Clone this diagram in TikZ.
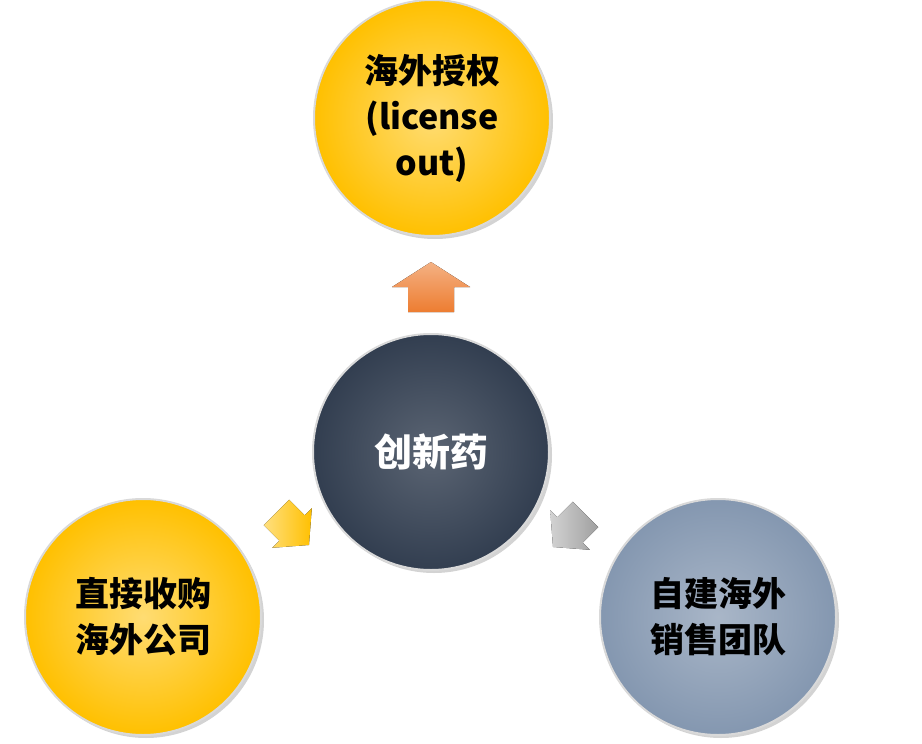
\documentclass[tikz,border=0pt]{standalone}
\usepackage{fontspec}
\newfontfamily\cjk{Noto Sans CJK SC}
\usetikzlibrary{shadows}
\definecolor{gold}{HTML}{FFC000}
\definecolor{navy}{HTML}{323E50}
\definecolor{steel}{HTML}{8497B0}
\definecolor{orng}{HTML}{ED7D31}
\tikzset{
  ball/.style={circle,minimum size=236pt,inner sep=0pt,draw=white!85!black,line width=2pt,
    drop shadow={shadow xshift=3pt,shadow yshift=-3pt,opacity=0.35},
    font=\cjk\bfseries\fontsize{34}{46}\selectfont,align=center},
  yball/.style={ball,inner color=gold!55!white,outer color=gold,text=black},
  nball/.style={ball,inner color=navy!80!white,outer color=navy,text=white},
  sball/.style={ball,inner color=steel!70!white,outer color=steel,text=black},
  barrow/.style={draw=white,line width=0.8pt}
}
\begin{document}
\begin{tikzpicture}[x=1pt,y=-1pt]
\useasboundingbox (0,0) rectangle (922,744);
\node[yball] (top) at (432,118) {海外授权\\(license\\out)};
\node[nball,font=\cjk\bfseries\fontsize{38}{46}\selectfont] (mid) at (431,452) {创新药};
\node[yball] (bl) at (143,617) {直接收购\\海外公司};
\node[sball] (br) at (718,617) {自建海外\\销售团队};
% up arrow
\coordinate (a1) at (431,287);
\fill[top color=orng!60!white,bottom color=orng] (a1) ++(-23,25) -- ++(0,-25) -- ++(-16,0) -- ++(39,-25) -- ++(39,25) -- ++(-16,0) -- ++(0,25) -- cycle;
% down-left arrow
\begin{scope}[shift={(292,528)},rotate=-135]
\coordinate (a2) at (0,0);
\fill[left color=gold!50!white,right color=gold] (-18,22) -- (-18,0) -- (-28,0) -- (0,-24) -- (28,0) -- (18,0) -- (18,22) -- cycle;
\end{scope}
% down-right arrow
\begin{scope}[shift={(570,530)},rotate=135]
\coordinate (a3) at (0,0);
\fill[left color=gray!35,right color=gray!75] (-18,22) -- (-18,0) -- (-28,0) -- (0,-24) -- (28,0) -- (18,0) -- (18,22) -- cycle;
\end{scope}
\end{tikzpicture}
\end{document}
